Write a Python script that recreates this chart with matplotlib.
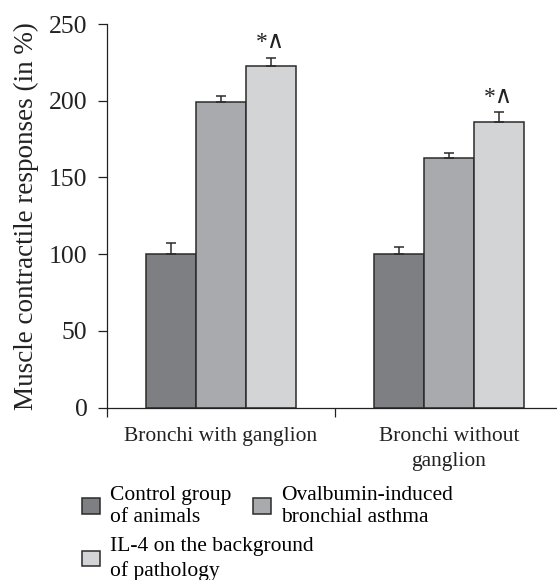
import numpy as np
import matplotlib.pyplot as plt
from matplotlib.patches import Patch

plt.rcParams['font.family'] = ['Liberation Serif', 'DejaVu Serif']

# data
categories = ['Bronchi with ganglion', 'Bronchi without\nganglion']
series_names = ['Control group\nof animals',
                'Ovalbumin-induced\nbronchial asthma',
                'IL-4 on the background\nof pathology']
control = [100, 100]
control_err = [7.6, 4.6]
asthma = [199.4, 162.5]
asthma_err = [4.0, 3.3]
il4 = [222.4, 186.4]
il4_err = [5.7, 6.0]
marks = ['*\u2227', '*\u2227']
yticks = [0, 50, 100, 150, 200, 250]

colors = ['#7e7f83', '#a9aaad', '#d3d4d6']
edge = '#2b2b2b'


def main():
    fig = plt.figure(figsize=(5.57, 5.8), dpi=100)
    ax = fig.add_axes([0.1916, 0.2971, 0.8188, 0.6615])

    x = np.arange(len(categories))
    w = 0.219
    series = [(control, control_err), (asthma, asthma_err), (il4, il4_err)]
    for i, (vals, errs) in enumerate(series):
        ax.bar(x + (i - 1) * w, vals, w, color=colors[i], edgecolor=edge,
               linewidth=1.1,
               yerr=[np.zeros(len(errs)), errs],
               error_kw=dict(ecolor=edge, elinewidth=1.1, capsize=3.3,
                             capthick=1.1))

    # significance marks above the IL-4 bars
    for xi, v, e, m in zip(x, il4, il4_err, marks):
        ax.text(xi + w, v + e + 3, m, ha='center', va='bottom',
                fontsize=17, color='#222222')

    ax.set_xlim(-0.5, 1.5)
    ax.set_ylim(0, 250)
    ax.set_yticks(yticks)
    ax.tick_params(axis='y', labelsize=18.5, length=6.3, width=0.9,
                   pad=7.5, colors='#222222')

    ax.set_xticks(x, categories, fontsize=15.5, linespacing=1.4)
    ax.tick_params(axis='x', which='major', length=0, pad=14,
                   colors='#222222')
    ax.set_xticks([-0.5, 0.5, 1.5], minor=True)
    ax.tick_params(axis='x', which='minor', length=6.5, width=0.9,
                   direction='out', color='#222222')

    for s in ['top', 'right']:
        ax.spines[s].set_visible(False)
    for s in ['left', 'bottom']:
        ax.spines[s].set_linewidth(0.9)
        ax.spines[s].set_color('#222222')

    ax.set_ylabel('Muscle contractile responses (in %)', fontsize=19.5,
                  labelpad=7, color='#222222')

    handles = [Patch(facecolor=c, edgecolor=edge, linewidth=1.1,
                     label=n) for c, n in zip(colors, series_names)]
    leg_kw = dict(frameon=False, borderpad=0, borderaxespad=0,
                  handlelength=0.84, handleheight=0.74, handletextpad=0.47,
                  columnspacing=0.98, fontsize=15.5, labelspacing=0.3,
                  loc='upper left')
    fig.legend(handles=handles[:2], ncol=2,
               bbox_to_anchor=(82 / 557, 1 - 486 / 580), **leg_kw)
    leg3 = fig.legend(handles=handles[2:], ncol=1,
                      bbox_to_anchor=(82 / 557, 1 - 537 / 580), **leg_kw)
    for t in leg3.get_texts():
        t.set_linespacing(1.35)

    fig.savefig('out.png', dpi=100)


if __name__ == '__main__':
    main()
